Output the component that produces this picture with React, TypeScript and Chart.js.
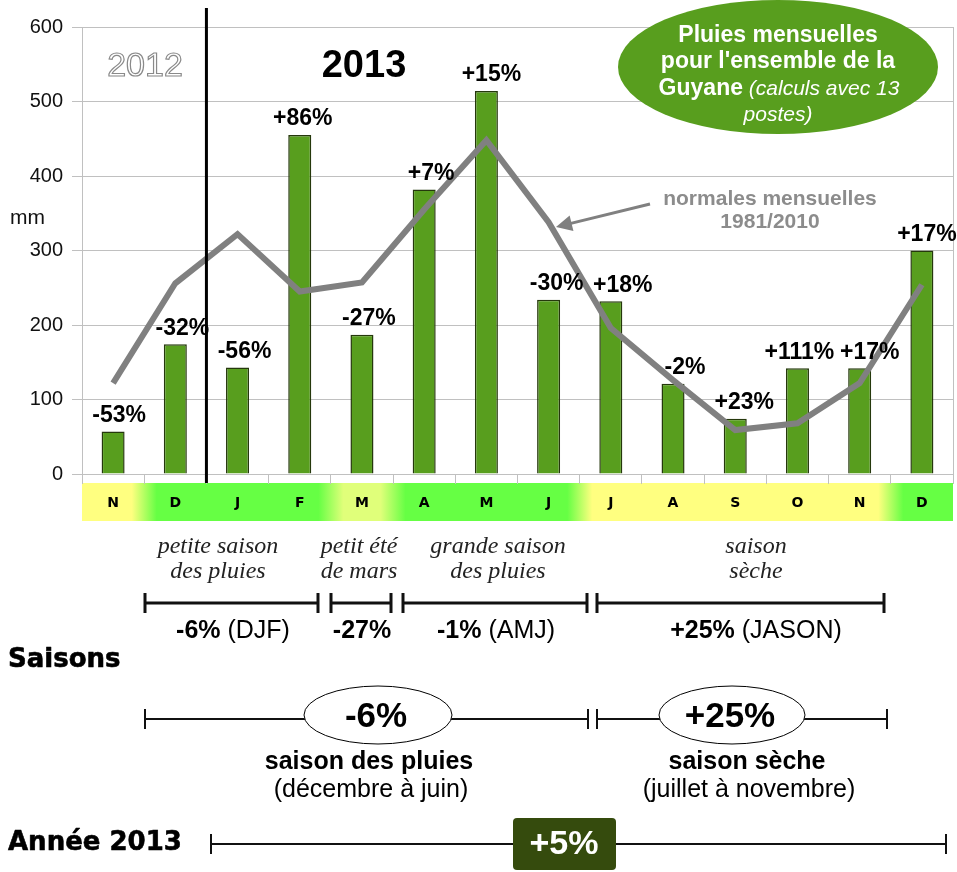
import React, { useEffect, useRef } from 'react';
import { Chart, registerables } from 'chart.js';
Chart.register(...registerables);

// ---------- data ----------
const months = ['N', 'D', 'J', 'F', 'M', 'A', 'M', 'J', 'J', 'A', 'S', 'O', 'N', 'D'];
const rain2013 = [57, 174, 143, 455, 187, 382, 514, 234, 232, 121, 74, 142, 142, 300];
const normals = [122, 256, 322, 245, 257, 355, 448, 338, 196, 126, 59, 68, 122, 254];
const anomalies = ['-53%', '-32%', '-56%', '+86%', '-27%', '+7%', '+15%', '-30%', '+18%', '-2%', '+23%', '+111%', '+17%', '+17%'];
const monthSeason = ['dry', 'wet', 'wet', 'wet', 'summer', 'wet', 'wet', 'wet', 'dry', 'dry', 'dry', 'dry', 'dry', 'wet'];
const yTickStep = 100;
const yMax = 600;

const subSeasonNames = [['petite saison', 'des pluies'], ['petit été', 'de mars'], ['grande saison', 'des pluies'], ['saison', 'sèche']];
const subSeasonPct = ['-6%', '-27%', '-1%', '+25%'];
const subSeasonCode = [' (DJF)', '', ' (AMJ)', ' (JASON)'];
const seasonNames = ['saison des pluies', 'saison sèche'];
const seasonPeriods = ['(décembre à juin)', '(juillet à novembre)'];
const seasonPct = ['-6%', '+25%'];
const yearLabel = 'Année 2013';
const yearPct = '+5%';

// ---------- layout / style (not data) ----------
const W = 957;
const H = 872;
const SANS = "'Liberation Sans', Arial, sans-serif";
const SERIF = "'Liberation Serif', 'Times New Roman', serif";
const HEAVY = "'DejaVu Sans', Verdana, sans-serif";
const BAR_GREEN = '#589e1e';
const bandPalette: Record<string, string> = { dry: '#ffff80', wet: '#66ff44', summer: '#e0ff7a' };
const labelShiftX = [6, 7, 7, 3, 7, 7, 5, 8, 12, 12, 9, 2, 10, 5];
const subSeasonTextX = [218, 359, 498, 756];
const subSeasonBrackets = [[145, 318], [331, 391], [403, 587], [597, 884]];
const subSeasonValueX = [233, 362, 496, 756];
const seasonLines = [[145, 588], [597, 887]];
const seasonEllipses = [[378, 715, 74, 29], [732, 715, 73, 29]];
const seasonTextX = [369, 747];

function runsWidth(ctx: CanvasRenderingContext2D, runs: [string, string][]) {
  let w = 0;
  for (const [font, t] of runs) { ctx.font = font; w += ctx.measureText(t).width; }
  return w;
}
function drawRuns(ctx: CanvasRenderingContext2D, runs: [string, string][], cx: number, y: number, color: string) {
  const total = runsWidth(ctx, runs);
  let x = cx - total / 2;
  ctx.textAlign = 'left';
  ctx.textBaseline = 'middle';
  ctx.fillStyle = color;
  for (const [font, t] of runs) {
    ctx.font = font;
    ctx.fillText(t, x, y);
    x += ctx.measureText(t).width;
  }
}
function heavyText(ctx: CanvasRenderingContext2D, t: string, x: number, y: number) {
  ctx.font = `bold 26px ${HEAVY}`;
  ctx.textAlign = 'left';
  ctx.textBaseline = 'middle';
  ctx.fillStyle = '#000';
  ctx.strokeStyle = '#000';
  ctx.lineWidth = 0.6;
  ctx.lineJoin = 'round';
  ctx.fillText(t, x, y);
  ctx.strokeText(t, x, y);
}
function bracket(ctx: CanvasRenderingContext2D, x1: number, x2: number, y: number, lw: number, h: number) {
  ctx.lineWidth = lw;
  ctx.strokeStyle = '#111';
  ctx.beginPath();
  ctx.moveTo(x1, y); ctx.lineTo(x2, y);
  ctx.moveTo(x1, y - h); ctx.lineTo(x1, y + h);
  ctx.moveTo(x2, y - h); ctx.lineTo(x2, y + h);
  ctx.stroke();
}

const decor = {
  id: 'decor',
  beforeDraw(chart: any) {
    const { ctx, chartArea: ca, scales } = chart;
    const x = scales.x;
    ctx.save();
    ctx.fillStyle = '#fff';
    ctx.fillRect(0, 0, W, H);
    const span = ca.right - ca.left;
    const w = span / months.length;
    const g = ctx.createLinearGradient(ca.left, 0, ca.right, 0);
    const clamp = (v: number) => Math.max(0, Math.min(1, v));
    months.forEach((_, i) => {
      const c = x.getPixelForValue(i);
      const col = bandPalette[monthSeason[i]];
      g.addColorStop(clamp((c - 0.3 * w - ca.left) / span), col);
      g.addColorStop(clamp((c + 0.3 * w - ca.left) / span), col);
    });
    ctx.fillStyle = g;
    ctx.fillRect(ca.left, ca.bottom + 9, span, 38);
    ctx.restore();
  },
  afterDraw(chart: any) {
    const { ctx, chartArea: ca, scales } = chart;
    const x = scales.x;
    const y = scales.y;
    ctx.save();

    // right border
    ctx.strokeStyle = '#c0c0c0';
    ctx.lineWidth = 1;
    ctx.beginPath();
    ctx.moveTo(ca.right + 0.5, ca.top);
    ctx.lineTo(ca.right + 0.5, ca.bottom + 9);
    ctx.stroke();

    // mm
    ctx.fillStyle = '#111';
    ctx.font = `21px ${SANS}`;
    ctx.textAlign = 'left';
    ctx.textBaseline = 'middle';
    ctx.fillText('mm', 10, 218);

    // bar labels
    ctx.font = `bold 23px ${SANS}`;
    ctx.textAlign = 'center';
    ctx.fillStyle = '#000';
    anomalies.forEach((t, i) => {
      ctx.fillText(t, x.getPixelForValue(i) + labelShiftX[i], y.getPixelForValue(rain2013[i]) - 16);
    });

    // year separator
    const sep = (x.getPixelForValue(1) + x.getPixelForValue(2)) / 2;
    ctx.strokeStyle = '#000';
    ctx.lineWidth = 3;
    ctx.beginPath();
    ctx.moveTo(sep, 8);
    ctx.lineTo(sep, ca.bottom + 9);
    ctx.stroke();

    // 2012 / 2013
    ctx.font = `34px ${SANS}`;
    ctx.textAlign = 'center';
    ctx.textBaseline = 'middle';
    ctx.lineWidth = 1.2;
    ctx.strokeStyle = '#8a8a8a';
    ctx.strokeText('2012', 145, 67);
    ctx.font = `bold 38px ${SANS}`;
    ctx.fillStyle = '#000';
    ctx.fillText('2013', 364, 67);

    // title ellipse
    ctx.fillStyle = BAR_GREEN;
    ctx.beginPath();
    ctx.ellipse(778, 67, 160, 67, 0, 0, Math.PI * 2);
    ctx.fill();
    const tb = `bold 23px ${SANS}`;
    const ti = `italic 21px ${SANS}`;
    drawRuns(ctx, [[tb, 'Pluies mensuelles']], 778, 36, '#fff');
    drawRuns(ctx, [[tb, "pour l'ensemble de la"]], 778, 62, '#fff');
    drawRuns(ctx, [[tb, 'Guyane'], [ti, ' (calculs avec 13']], 779, 89, '#fff');
    drawRuns(ctx, [[ti, 'postes)']], 778, 115, '#fff');

    // normales annotation
    drawRuns(ctx, [[`bold 21px ${SANS}`, 'normales mensuelles']], 770, 199, '#8c8c8c');
    drawRuns(ctx, [[`bold 21px ${SANS}`, '1981/2010']], 770, 222, '#8c8c8c');
    ctx.strokeStyle = '#808080';
    ctx.fillStyle = '#808080';
    ctx.lineWidth = 3;
    const ax1 = 650, ay1 = 204, ax2 = 556, ay2 = 227;
    const ang = Math.atan2(ay2 - ay1, ax2 - ax1);
    ctx.beginPath();
    ctx.moveTo(ax1, ay1);
    ctx.lineTo(ax2 - 10 * Math.cos(ang), ay2 - 10 * Math.sin(ang));
    ctx.stroke();
    ctx.beginPath();
    ctx.moveTo(ax2, ay2);
    ctx.lineTo(ax2 - 16 * Math.cos(ang) + 8 * Math.sin(ang), ay2 - 16 * Math.sin(ang) - 8 * Math.cos(ang));
    ctx.lineTo(ax2 - 16 * Math.cos(ang) - 8 * Math.sin(ang), ay2 - 16 * Math.sin(ang) + 8 * Math.cos(ang));
    ctx.closePath();
    ctx.fill();

    // sub-seasons
    subSeasonNames.forEach((lines, i) => {
      drawRuns(ctx, [[`italic 24px ${SERIF}`, lines[0]]], subSeasonTextX[i], 547, '#222');
      drawRuns(ctx, [[`italic 24px ${SERIF}`, lines[1]]], subSeasonTextX[i], 572, '#222');
      bracket(ctx, subSeasonBrackets[i][0], subSeasonBrackets[i][1], 603, 3, 10);
      const runs: [string, string][] = [[`bold 25px ${SANS}`, subSeasonPct[i]]];
      if (subSeasonCode[i]) runs.push([`25px ${SANS}`, subSeasonCode[i]]);
      drawRuns(ctx, runs, subSeasonValueX[i], 631, '#000');
    });

    // Saisons
    heavyText(ctx, 'Saisons', 8, 660);

    seasonNames.forEach((name, i) => {
      bracket(ctx, seasonLines[i][0], seasonLines[i][1], 719, 2, 10);
      const [ex, ey, erx, ery] = seasonEllipses[i];
      ctx.fillStyle = '#fff';
      ctx.strokeStyle = '#000';
      ctx.lineWidth = 1;
      ctx.beginPath();
      ctx.ellipse(ex, ey, erx, ery, 0, 0, Math.PI * 2);
      ctx.fill();
      ctx.stroke();
      drawRuns(ctx, [[`bold 35px ${SANS}`, seasonPct[i]]], ex - 2, ey + 2, '#000');
      drawRuns(ctx, [[`bold 25px ${SANS}`, name]], seasonTextX[i], 762, '#000');
      drawRuns(ctx, [[`25px ${SANS}`, seasonPeriods[i]]], seasonTextX[i] + 2, 790, '#000');
    });

    // Année
    heavyText(ctx, yearLabel, 8, 843);
    bracket(ctx, 211, 946, 844, 2, 10);
    ctx.fillStyle = '#354b0d';
    ctx.beginPath();
    (ctx as any).roundRect(513, 818, 103, 52, 4);
    ctx.fill();
    drawRuns(ctx, [[`bold 34px ${SANS}`, yearPct]], 564, 845, '#fff');

    ctx.restore();
  },
};

export default function App() {
  const ref = useRef<HTMLCanvasElement | null>(null);
  useEffect(() => {
    document.body.style.margin = '0';
    Chart.defaults.font.family = SANS;
    const chart = new Chart(ref.current as HTMLCanvasElement, {
      type: 'bar',
      data: {
        labels: months,
        datasets: [
          {
            type: 'line',
            label: 'normales mensuelles 1981/2010',
            data: normals,
            borderColor: '#808080',
            borderWidth: 6,
            pointRadius: 0,
            tension: 0,
            fill: false,
            order: 0,
          } as any,
          {
            type: 'bar',
            label: '2013',
            data: rain2013,
            backgroundColor: BAR_GREEN,
            borderColor: '#25380c',
            borderWidth: 1.5,
            barPercentage: 0.37,
            categoryPercentage: 1,
            order: 1,
          },
        ],
      },
      options: {
        responsive: false,
        animation: false,
        devicePixelRatio: 1,
        layout: { padding: { top: 27, right: 4, left: 0, bottom: 0 } },
        plugins: { legend: { display: false }, tooltip: { enabled: false } },
        scales: {
          x: {
            offset: true,
            grid: { display: true, drawOnChartArea: false, drawTicks: true, tickLength: 10, color: '#c0c0c0', offset: true },
            border: { color: '#c0c0c0' },
            ticks: { font: { family: HEAVY, weight: 'bold', size: 14 }, color: '#000', padding: 11, autoSkip: false, maxRotation: 0 },
            afterFit: (s: any) => { s.height = H - 474; },
          },
          y: {
            min: 0,
            max: yMax,
            ticks: { stepSize: yTickStep, font: { size: 20 }, color: '#111', padding: 9 },
            grid: { color: '#c0c0c0', tickLength: 10 },
            border: { color: '#c0c0c0' },
            afterFit: (s: any) => { s.width = 82; },
          },
        },
      },
      plugins: [decor],
    });
    return () => chart.destroy();
  }, []);
  return <canvas ref={ref} width={W} height={H} style={{ display: 'block' }} />;
}
